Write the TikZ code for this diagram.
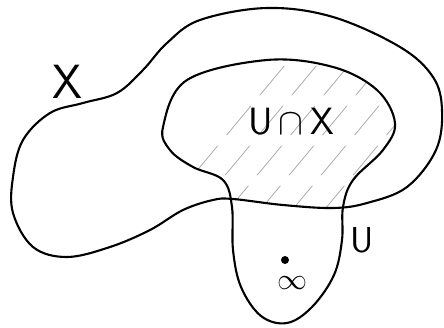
\documentclass[tikz,border=0pt]{standalone}
\usepackage{fontspec}
\begin{document}
\begin{tikzpicture}[x=1pt,y=-1pt,
  curve/.style={line width=2.1pt, line join=round},
  hatch/.style={gray!65, line width=0.8pt, dash pattern=on 38pt off 14pt, line cap=round},
  lbl/.style={font=\sffamily\fontsize{48}{48}\selectfont, inner sep=0pt}]
\useasboundingbox (0,0) rectangle (444,327);
\def\Xpath{plot[smooth cycle, tension=0.6] coordinates {(23,140) (50,113) (83,103) (117,93) (143,70) (167,43) (200,20) (267,8) (333,17) (400,47) (433,77) (442,110) (436,150) (407,187) (367,203) (333,208) (283,205) (233,199) (213,200) (183,210) (150,230) (110,247) (67,257) (33,247) (13,213) (13,177)}}
\def\Upath{plot[smooth cycle, tension=0.6] coordinates {(163,127) (187,80) (267,60) (333,67) (377,90) (395,123) (383,150) (353,180) (343,207) (342,240) (334,275) (312,307) (287,323) (261,316) (241,287) (233,250) (232,207) (223,180) (193,167) (170,150)}}
% hatching of U cap X
\begin{scope}
  \clip \Upath;
  \clip \Xpath;
  \foreach \k in {0,...,10} {
    \draw[hatch] (160+\k*32,215) -- ++(150,-180);
  }
\end{scope}
\draw[curve] \Xpath;
\draw[curve] \Upath;
\node[lbl] (lx) at (67,82) {X};
\node[lbl, font=\sffamily\fontsize{38}{38}\selectfont] (lux) at (291,122) {U\,\scalebox{1.5}{$\cap$}\,X};
\node[lbl, font=\sffamily\fontsize{36}{36}\selectfont] (lu) at (362,240) {U};
\fill (285,260) circle (4pt);
\node[inner sep=0pt] (inf) at (292,283) {\scalebox{3}{$\infty$}};
\end{tikzpicture}
\end{document}
